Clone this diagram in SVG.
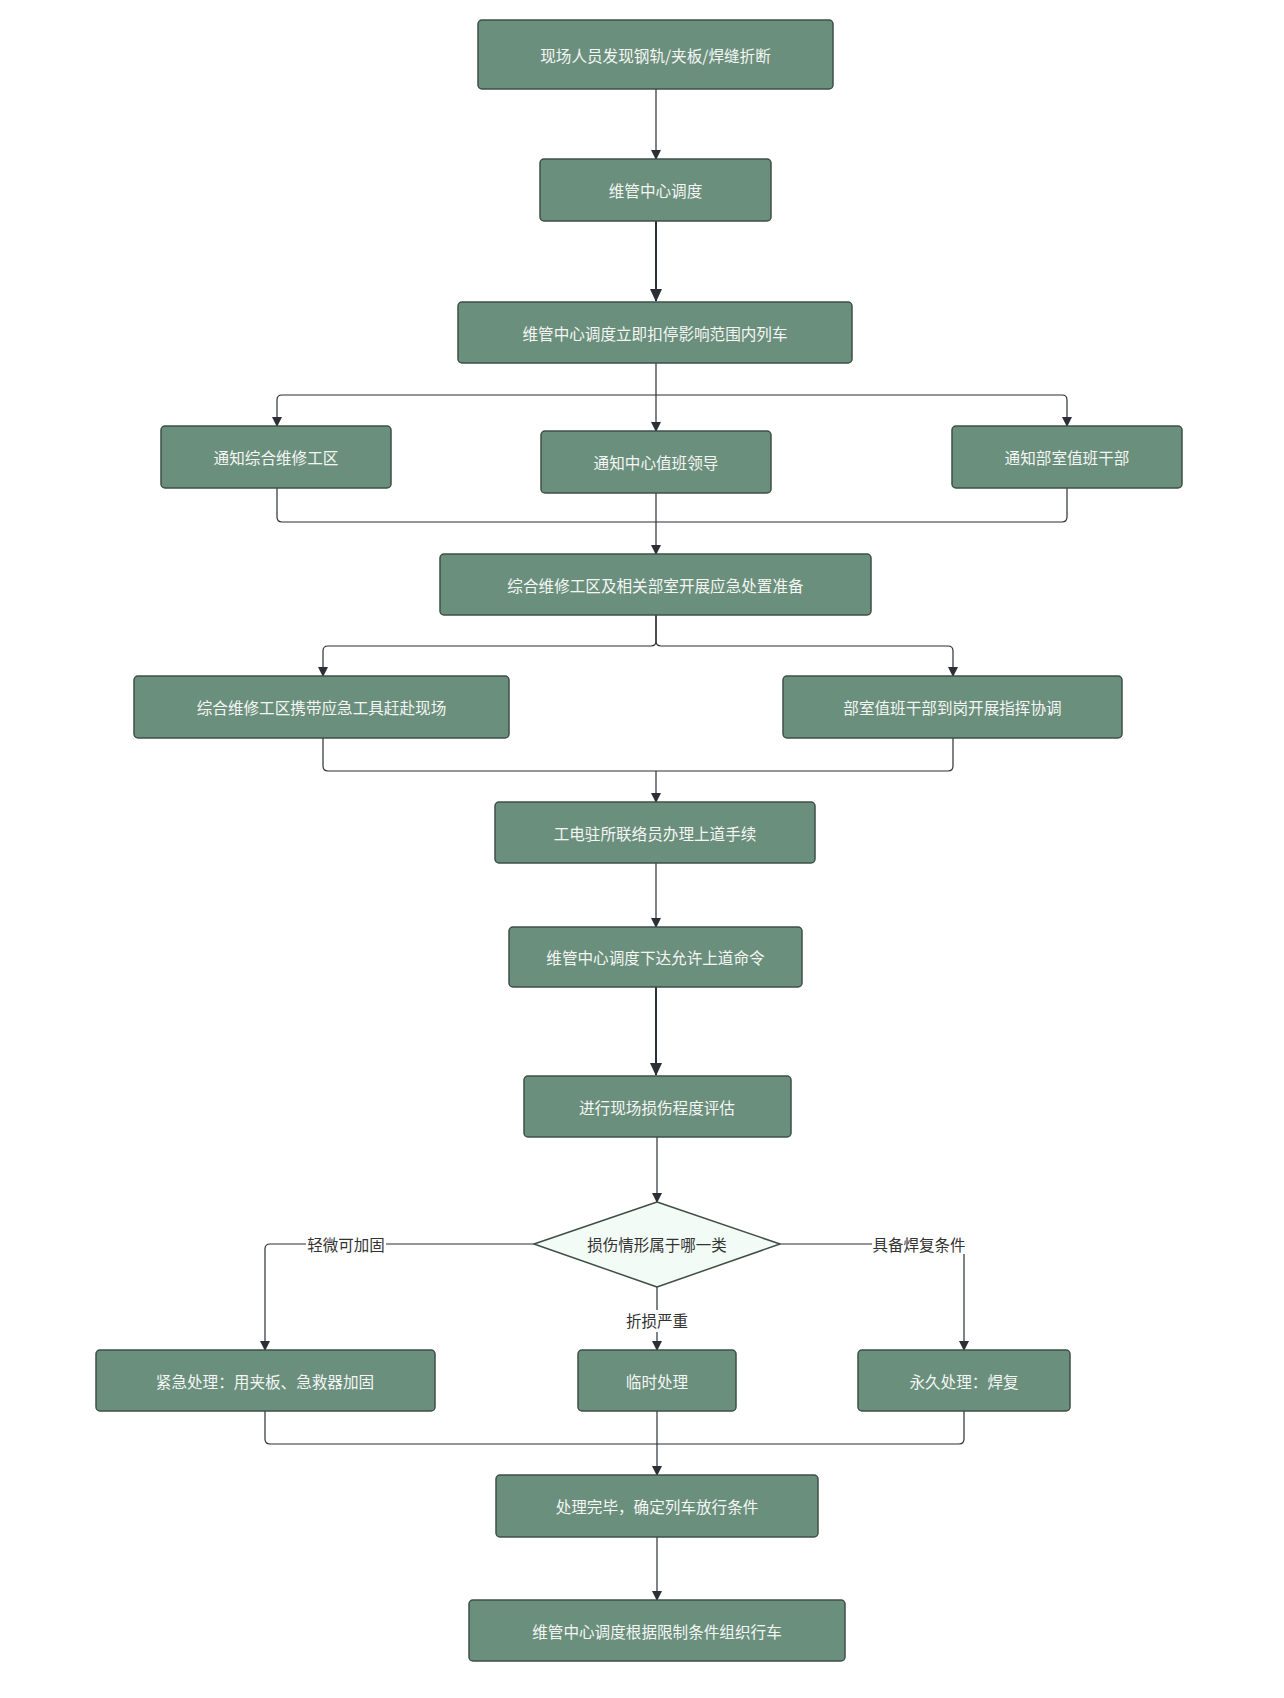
<svg xmlns="http://www.w3.org/2000/svg" width="1284" height="1698" viewBox="0 0 1284 1698">
<style>
.n rect{fill:#6b8f7d;stroke:#3f4f47;stroke-width:1.5}
.n text{fill:#f4f6f4;font-family:"Noto Sans CJK SC","Noto Sans",sans-serif;font-size:15.6px;text-anchor:middle;dominant-baseline:central}
.d polygon{fill:#f3fbf6;stroke:#3f4f47;stroke-width:1.5}
.d text{fill:#333;font-family:"Noto Sans CJK SC","Noto Sans",sans-serif;font-size:15.5px;text-anchor:middle;dominant-baseline:central}
.e path{fill:none;stroke:#2b2f36;stroke-width:1.2}
.e path.t{stroke-width:2}
.lbl rect{fill:#fff}
.lbl text{fill:#333;font-family:"Noto Sans CJK SC","Noto Sans",sans-serif;font-size:15.5px;text-anchor:middle;dominant-baseline:central}
</style>
<defs>
<marker id="a" markerUnits="userSpaceOnUse" markerWidth="10" markerHeight="12" refX="9" refY="5" orient="auto">
<path d="M0,0 L10,5 L0,10 z" fill="#2b2f36"/>
</marker>
<marker id="b" markerUnits="userSpaceOnUse" markerWidth="13" markerHeight="14" refX="12" refY="6" orient="auto">
<path d="M0,0 L13,6 L0,12 z" fill="#2b2f36"/>
</marker>
</defs>
<rect width="1284" height="1698" fill="#fff"/>
<g id="edges" class="e">
<path d="M656,89 V159" marker-end="url(#a)"/>
<path class="t" d="M656,221 V301" marker-end="url(#b)"/>
<path d="M656,363 V431" marker-end="url(#a)"/>
<path d="M656,395 H282 Q277,395 277,400 V426" marker-end="url(#a)"/>
<path d="M656,395 H1062 Q1067,395 1067,400 V426" marker-end="url(#a)"/>
<path d="M277,488 V517 Q277,522 282,522 H656"/>
<path d="M1067,488 V517 Q1067,522 1062,522 H656"/>
<path d="M656,493 V554" marker-end="url(#a)"/>
<path d="M656,615 V641 Q656,646 651,646 H328 Q323,646 323,651 V676" marker-end="url(#a)"/>
<path d="M656,615 V641 Q656,646 661,646 H948 Q953,646 953,651 V676" marker-end="url(#a)"/>
<path d="M323,738 V766 Q323,771 328,771 H656"/>
<path d="M953,738 V766 Q953,771 948,771 H656"/>
<path d="M656,771 V802" marker-end="url(#a)"/>
<path d="M656,863 V927" marker-end="url(#a)"/>
<path class="t" d="M656,987 V1075" marker-end="url(#b)"/>
<path d="M657,1137 V1202" marker-end="url(#a)"/>
<path d="M534,1244 H270 Q265,1244 265,1249 V1350" marker-end="url(#a)"/>
<path d="M780,1244 H959 Q964,1244 964,1249 V1350" marker-end="url(#a)"/>
<path d="M657,1287 V1350" marker-end="url(#a)"/>
<path d="M265,1411 V1439 Q265,1444 270,1444 H657"/>
<path d="M964,1411 V1439 Q964,1444 959,1444 H657"/>
<path d="M657,1411 V1475" marker-end="url(#a)"/>
<path d="M657,1537 V1600" marker-end="url(#a)"/>
</g>
<g id="edge-labels" class="lbl">
<g id="lbl1"><rect x="306" y="1234" width="80" height="20"/><text x="346" y="1244">轻微可加固</text></g>
<g id="lbl2"><rect x="872" y="1234" width="94" height="20"/><text x="919" y="1244">具备焊复条件</text></g>
<g id="lbl3"><rect x="625" y="1310" width="64" height="22"/><text x="657" y="1320">折损严重</text></g>
</g>
<g id="n1" class="n"><rect x="478" y="20" width="355" height="69" rx="4"/><text x="655.5" y="54.5">现场人员发现钢轨/夹板/焊缝折断</text></g>
<g id="n2" class="n"><rect x="540" y="159" width="231" height="62" rx="4"/><text x="655.5" y="190">维管中心调度</text></g>
<g id="n3" class="n"><rect x="458" y="302" width="394" height="61" rx="4"/><text x="655" y="332.5">维管中心调度立即扣停影响范围内列车</text></g>
<g id="n4" class="n"><rect x="161" y="426" width="230" height="62" rx="4"/><text x="276" y="457">通知综合维修工区</text></g>
<g id="n5" class="n"><rect x="541" y="431" width="230" height="62" rx="4"/><text x="656" y="462">通知中心值班领导</text></g>
<g id="n6" class="n"><rect x="952" y="426" width="230" height="62" rx="4"/><text x="1067" y="457">通知部室值班干部</text></g>
<g id="n7" class="n"><rect x="440" y="554" width="431" height="61" rx="4"/><text x="655.5" y="584.5">综合维修工区及相关部室开展应急处置准备</text></g>
<g id="n8" class="n"><rect x="134" y="676" width="375" height="62" rx="4"/><text x="321.5" y="707">综合维修工区携带应急工具赶赴现场</text></g>
<g id="n9" class="n"><rect x="783" y="676" width="339" height="62" rx="4"/><text x="952.5" y="707">部室值班干部到岗开展指挥协调</text></g>
<g id="n10" class="n"><rect x="495" y="802" width="320" height="61" rx="4"/><text x="655" y="832.5">工电驻所联络员办理上道手续</text></g>
<g id="n11" class="n"><rect x="509" y="927" width="293" height="60" rx="4"/><text x="655.5" y="957">维管中心调度下达允许上道命令</text></g>
<g id="n12" class="n"><rect x="524" y="1076" width="267" height="61" rx="4"/><text x="657" y="1106.5">进行现场损伤程度评估</text></g>
<g id="n13" class="d"><polygon points="657,1202 780,1244 657,1287 534,1244" stroke-linejoin="round"/><text x="657" y="1244">损伤情形属于哪一类</text></g>
<g id="n14" class="n"><rect x="96" y="1350" width="339" height="61" rx="4"/><text x="265" y="1380.5">紧急处理：用夹板、急救器加固</text></g>
<g id="n15" class="n"><rect x="578" y="1350" width="158" height="61" rx="4"/><text x="657" y="1380.5">临时处理</text></g>
<g id="n16" class="n"><rect x="858" y="1350" width="212" height="61" rx="4"/><text x="964" y="1380.5">永久处理：焊复</text></g>
<g id="n17" class="n"><rect x="496" y="1475" width="322" height="62" rx="4"/><text x="657" y="1506">处理完毕，确定列车放行条件</text></g>
<g id="n18" class="n"><rect x="469" y="1600" width="376" height="61" rx="4"/><text x="657" y="1630.5">维管中心调度根据限制条件组织行车</text></g>
</svg>
